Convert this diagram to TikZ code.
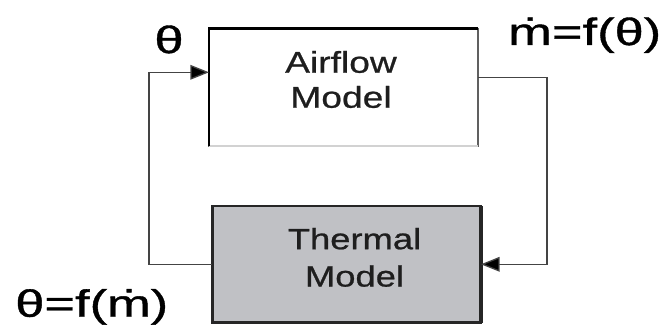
\documentclass[tikz,border=0pt]{standalone}
\usepackage{fontspec}
\setmainfont{Liberation Sans}
\newfontfamily\boxfont[FakeStretch=1.24,FakeBold=0.8]{Liberation Sans}
\newfontfamily\lblfont[FakeStretch=1.38,FakeBold=1.0]{Liberation Sans}
\usetikzlibrary{arrows.meta,calc}
\definecolor{thermfill}{HTML}{C0C1C5}
\definecolor{boxtext}{HTML}{1E1E1E}
\definecolor{connc}{HTML}{444444}
\tikzset{
  conn/.style={draw=connc,line width=1pt},
  tip/.style={-{Triangle[length=14pt,width=11pt,fill=black]}},
  boxtxt/.style={align=center,text=boxtext,inner sep=0pt},
  lbl/.style={inner sep=0pt,font=\lblfont\fontsize{28.5pt}{30pt}\selectfont}
}
\begin{document}
\begin{tikzpicture}[x=0.75pt,y=-0.75pt]
\useasboundingbox (0,0) rectangle (669,327);
% boxes
\node[draw=gray!75!black,line width=1.1pt,minimum width=201.75pt,minimum height=88.1pt,inner sep=0pt,outer sep=0pt] (airflow) at (343.5,87.3) {};
\draw[draw=gray!35,line width=1.2pt] (airflow.south west) -- (airflow.south east);
\draw[black,line width=2.2pt] (airflow.south west) -- (airflow.north west) -- (airflow.north east);
\node[draw=black!85,fill=thermfill,line width=1.8pt,minimum width=201.4pt,minimum height=87.5pt,inner sep=0pt,outer sep=0pt] (thermal) at (346.7,264.3) {};
\draw[black!85,line width=2.6pt] (thermal.north east) -- (thermal.south east);
% box texts
\node[boxtxt,font=\boxfont\fontsize{22.5pt}{26.25pt}\selectfont] (airtxt) at (341,79.5) {Airflow\\Model};
\node[boxtxt,font=\boxfont\fontsize{22pt}{28pt}\selectfont] (thermtxt) at (354.5,257.4) {Thermal\\Model};
% connectors
\coordinate (ain) at ($(airflow.west)+(0,-15)$);
\coordinate (aout) at ($(airflow.east)+(0,-10)$);
\coordinate (lx) at (149,150);
\coordinate (rx) at (547,150);
\draw[conn,tip] (thermal.west) -| (lx) |- (ain);
\draw[conn,tip] (aout) -| (rx) |- (thermal.east);
% labels
\node[lbl,anchor=base] (theta) at (169,53) {θ};
\node[lbl,anchor=base west] (mdot) at (508,45) {ṁ=f(θ)};
\node[lbl,anchor=base west] (thetaf) at (15,316.7) {θ=f(ṁ)};
\end{tikzpicture}
\end{document}
